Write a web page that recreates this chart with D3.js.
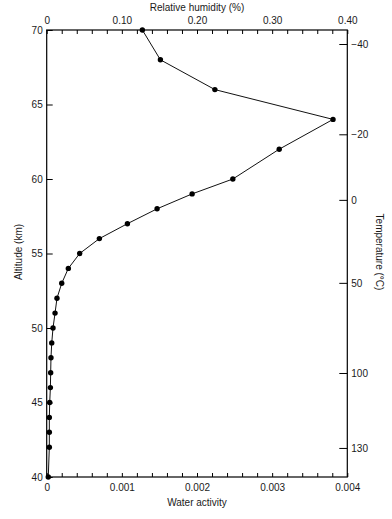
<!DOCTYPE html>
<html><head><meta charset="utf-8">
<script src="https://cdn.jsdelivr.net/npm/d3@7"></script>
<style>
html,body{margin:0;padding:0;background:#fff;}
svg text{font-family:"Liberation Sans",Arial,sans-serif;fill:#1a1a1a;}
</style></head>
<body>
<svg id="chart" width="392" height="519"></svg>
<script>
const altitudes = [40,42,43,44,45,46,47,48,49,50,51,52,53,54,55,56,57,58,59,60,62,64,66,68,70];
const relHumidity = [0.0021,0.0035,0.0035,0.0035,0.0040,0.0049,0.0053,0.0057,0.0067,0.0084,0.0111,0.0137,0.0200,0.0288,0.0439,0.0701,0.1074,0.1469,0.1935,0.2477,0.3094,0.3810,0.2238,0.1513,0.1273];
const rhTicks = [0,0.10,0.20,0.30,0.40];
const rhTickLabels = ["0","0.10","0.20","0.30","0.40"];
const awTicks = [0,0.001,0.002,0.003,0.004];
const awTickLabels = ["0","0.001","0.002","0.003","0.004"];
const altTicks = [40,45,50,55,60,65,70];
const tempLabels = ["\u221240","\u221220","0","50","100","130"];
const tempAltitudes = [69.06,63.0,58.6,53.03,46.98,41.95];

const svg = d3.select("#chart");
const L = 46.7, R = 347.3, T = 30, B = 477;
const xRH = d3.scaleLinear().domain([0,0.40]).range([L,R]);
const xAW = d3.scaleLinear().domain([0,0.004]).range([L,R]);
const y = d3.scaleLinear().domain([40,70]).range([B,T]);

// frame lines
const g = svg.append("g");
function styleAxis(sel){
  sel.select(".domain").remove();
  sel.selectAll("line").attr("stroke","#000").attr("stroke-width",1);
  sel.selectAll("text").attr("font-size","10px").attr("fill","#1a1a1a")
     .style("font-family","'Liberation Sans',Arial,sans-serif");
}
// top axis
const topAx = svg.append("g").attr("transform",`translate(0,${T})`)
  .call(d3.axisTop(xRH).tickValues(d3.range(0,0.4001,0.02)).tickSizeInner(-4).tickSizeOuter(0)
    .tickFormat(d=>{const i=rhTicks.findIndex(t=>Math.abs(t-d)<1e-9);return i>=0?rhTickLabels[i]:"";}));
styleAxis(topAx);
topAx.selectAll("text").attr("y",-6);
// bottom axis
const botAx = svg.append("g").attr("transform",`translate(0,${B})`)
  .call(d3.axisBottom(xAW).tickValues(d3.range(0,0.004001,0.0002)).tickSizeInner(-4).tickSizeOuter(0)
    .tickFormat(d=>{const i=awTicks.findIndex(t=>Math.abs(t-d)<1e-12);return i>=0?awTickLabels[i]:"";}));
styleAxis(botAx);
botAx.selectAll("text").attr("y",7);
// left axis
const leftAx = svg.append("g").attr("transform",`translate(${L},0)`)
  .call(d3.axisLeft(y).tickValues(altTicks).tickSizeInner(-6).tickSizeOuter(0).tickFormat(d3.format("d")));
styleAxis(leftAx);
leftAx.selectAll("text").attr("x",-4);
// right axis (temperature)
const rightAx = svg.append("g").attr("transform",`translate(${R},0)`)
  .call(d3.axisRight(y).tickValues(tempAltitudes).tickSizeInner(-8).tickSizeOuter(0)
    .tickFormat((d,i)=>tempLabels[i]));
styleAxis(rightAx);
rightAx.selectAll("text").attr("x",4);

// box
svg.append("rect").attr("x",L).attr("y",T).attr("width",R-L).attr("height",B-T)
  .attr("fill","none").attr("stroke","#000").attr("stroke-width",1.2);

// data line
const pts = altitudes.map((a,i)=>({a, v:relHumidity[i]}));
svg.append("path").datum(pts)
  .attr("d", d3.line().x(d=>xRH(d.v)).y(d=>y(d.a)))
  .attr("fill","none").attr("stroke","#111").attr("stroke-width",1);
svg.selectAll("circle.pt").data(pts).enter().append("circle")
  .attr("class","pt").attr("cx",d=>xRH(d.v)).attr("cy",d=>y(d.a)).attr("r",2.7).attr("fill","#000");

// titles
svg.append("text").attr("x",(L+R)/2).attr("y",11).attr("text-anchor","middle").attr("font-size","10px").text("Relative humidity (%)");
svg.append("text").attr("x",(L+R)/2).attr("y",506).attr("text-anchor","middle").attr("font-size","10px").text("Water activity");
svg.append("text").attr("transform","translate(22,252) rotate(-90)").attr("text-anchor","middle").attr("font-size","10px").text("Altitude (km)");
svg.append("text").attr("transform","translate(376,252) rotate(90)").attr("text-anchor","middle").attr("font-size","10px").text("Temperature (\u00B0C)");
</script>
</body></html>
